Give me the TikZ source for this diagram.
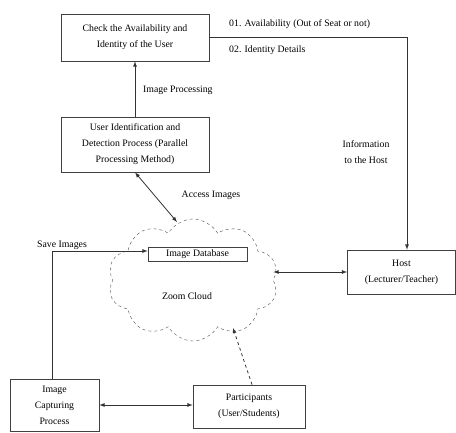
\documentclass[tikz,border=0pt]{standalone}
\usepackage{fontspec}
\setmainfont{Liberation Serif}
\usetikzlibrary{shapes.symbols,arrows,positioning}

\tikzset{
  procbox/.style={draw=black!75,line width=0.7pt,align=center,inner sep=2pt},
  lbl/.style={align=center,inner sep=1pt},
  conn/.style={draw=black!80,line width=0.8pt},
}

\begin{document}
\begin{tikzpicture}[x=1pt,y=-1pt,font=\fontsize{9.8}{16}\selectfont]
%
\useasboundingbox (0,0) rectangle (456,432);
%
\node[procbox,minimum width=148pt,minimum height=47pt] (check) at (135,37.5) {Check the Availability and\\Identity of the User};
\node[procbox,minimum width=148pt,minimum height=55pt] (detect) at (135,144.5) {User Identification and\\Detection Process (Parallel\\Processing Method)};
\node[procbox,minimum width=108pt,minimum height=44pt] (host) at (401.5,272) {Host\\(Lecturer/Teacher)};
\node[cloud,draw=black!70,dashed,thin,cloud puffs=10,cloud puff arc=120,cloud ignores aspect,minimum width=170pt,minimum height=122pt] (cloud) at (193,280) {};
\node[procbox,minimum width=99pt,minimum height=14pt,inner sep=0pt] (db) at (197.5,254) {Image Database};
\node[lbl] (zoom) at (187,296) {Zoom Cloud};
\node[procbox,minimum width=89pt,minimum height=52pt] (capture) at (54.5,405) {Image\\Capturing\\Process};
\node[procbox,minimum width=112pt,minimum height=43pt] (part) at (249,406.5) {Participants\\(User/Students)};
%
\coordinate (cin) at (177,222);
\coordinate (cpart) at (233,328);
%
\draw[conn,-latex] (detect.north) -- (check.south);
\draw[conn,-latex] (check.east) -| ([xshift=5.5pt]host.north);
\draw[conn,latex-latex] (detect.south) -- (cin);
\draw[conn,-latex] ([xshift=-2.5pt]capture.north) |- ([yshift=3pt]db.west);
\draw[conn,latex-latex] (host.west -| cloud.east) -- (host.west);
\draw[conn,latex-latex] (capture.east) -- (capture.east -| part.west);
\draw[conn,dashed,-latex] ([xshift=3pt]part.north) -- (cpart);
%
\node[lbl,anchor=west] (lproc) at (142,90) {Image Processing};
\node[lbl,anchor=west] (lavail) at (228,24) {01. Availability (Out of Seat or not)};
\node[lbl,anchor=west] (lident) at (228,50) {02. Identity Details};
\node[lbl] (linfo) at (366,152) {Information\\to the Host};
\node[lbl] (laccess) at (211,195) {Access Images};
\node[lbl] (lsave) at (62,245) {Save Images};
%
\end{tikzpicture}
\end{document}
